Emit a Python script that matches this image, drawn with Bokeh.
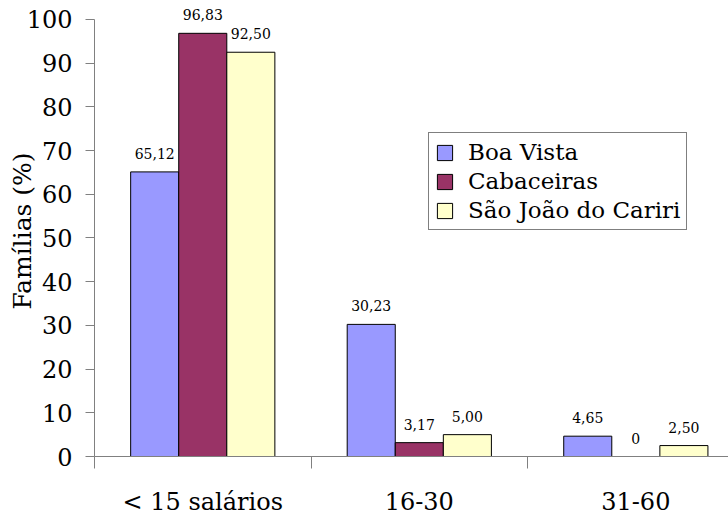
from bokeh.plotting import figure
from bokeh.models import Range1d, FixedTicker, ColumnDataSource, Legend, LegendItem, LabelSet
from bokeh.embed import file_html
from bokeh.resources import INLINE
from bokeh.core.properties import value

# ---- data ----
categories = ["< 15 salários", "16-30", "31-60"]
series_names = ["Boa Vista", "Cabaceiras", "São João do Cariri"]
boa_vista = [65.12, 30.23, 4.65]
cabaceiras = [96.83, 3.17, 0.0]
sao_joao = [92.50, 5.00, 2.50]
y_ticks = list(range(0, 101, 10))

series_values = [boa_vista, cabaceiras, sao_joao]
colors = ["#9999FF", "#993366", "#FFFFCC"]

FONT = "DejaVu Serif"
BAR_W = 0.222
AXIS_COLOR = "#808080"
PX_PER_UNIT = 4.38

p = figure(width=728, height=518,
           x_range=Range1d(0, 2.928), y_range=Range1d(0, 100 + 14 / PX_PER_UNIT),
           output_backend="svg", toolbar_location=None,
           min_border_left=94, min_border_right=0,
           min_border_top=5, min_border_bottom=61)
p.outline_line_color = None
p.xgrid.visible = False
p.ygrid.visible = False

def fmt(v):
    return "0" if v == 0 else f"{v:.2f}".replace(".", ",")

renderers = []
for i, (name, vals, col) in enumerate(zip(series_names, series_values, colors)):
    xs = [k + 0.5 + (i - 1) * BAR_W for k in range(len(categories))]
    src = ColumnDataSource(dict(x=xs, top=vals, lab=[fmt(v) for v in vals]))
    r = p.vbar(x="x", top="top", bottom=0, width=BAR_W, source=src,
               fill_color=col, line_color="black", line_width=1)
    renderers.append((name, r))
    p.add_layout(LabelSet(x="x", y="top", text="lab", source=src,
                          text_align="center", text_baseline="alphabetic", y_offset=13,
                          text_font=value(FONT), text_font_size="14px",
                          text_color="black"))

ya = p.yaxis[0]
ya.ticker = FixedTicker(ticks=y_ticks)
ya.bounds = (0, 100)
ya.axis_line_color = AXIS_COLOR
ya.major_tick_line_color = AXIS_COLOR
ya.major_tick_in = 0
ya.major_tick_out = 9
ya.minor_tick_line_color = None
ya.major_label_standoff = 13
ya.major_label_text_font = FONT
ya.major_label_text_font_size = "24px"
ya.major_label_text_color = "black"
ya.axis_label = "Famílias (%)"
ya.axis_label_text_font = FONT
ya.axis_label_text_font_size = "25px"
ya.axis_label_text_font_style = "normal"
ya.axis_label_text_color = "black"
ya.axis_label_standoff = -13

xa = p.xaxis[0]
centers = [k + 0.5 for k in range(len(categories))]
bounds = [float(k) for k in range(len(categories))]
xa.ticker = FixedTicker(ticks=centers, minor_ticks=bounds)
xa.major_label_overrides = {c: lab for c, lab in zip(centers, categories)}
xa.axis_line_color = AXIS_COLOR
xa.major_tick_line_color = None
xa.major_tick_in = 0
xa.major_tick_out = 0
xa.minor_tick_line_color = AXIS_COLOR
xa.minor_tick_in = 0
xa.minor_tick_out = 12
xa.major_label_standoff = 19
xa.major_label_text_font = FONT
xa.major_label_text_font_size = "24px"
xa.major_label_text_color = "black"

legend = Legend(items=[LegendItem(label=n, renderers=[r]) for n, r in renderers],
                location=(334, 226))
legend.label_text_font = FONT
legend.label_text_font_size = "23px"
legend.label_text_color = "black"
legend.glyph_width = 19
legend.glyph_height = 19
legend.label_standoff = 14
legend.padding = 6
legend.spacing = 3
legend.margin = 0
legend.border_line_color = "black"
legend.border_line_width = 1
p.add_layout(legend)

open("out.html", "w").write(file_html(p, INLINE))
